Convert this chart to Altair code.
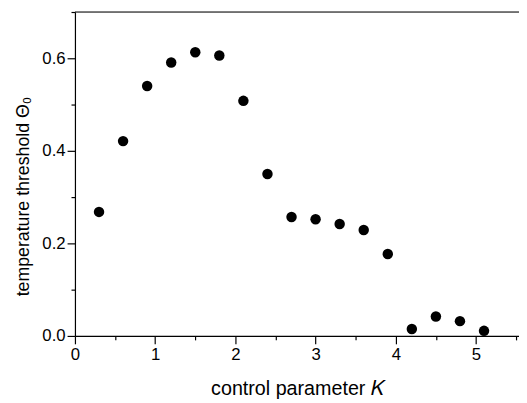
import altair as alt
import pandas as pd

K = [0.3, 0.6, 0.9, 1.2, 1.5, 1.8, 2.1, 2.4, 2.7, 3.0, 3.3, 3.6, 3.9, 4.2, 4.5, 4.8, 5.1]
theta0 = [0.268, 0.421, 0.540, 0.591, 0.613, 0.606, 0.508, 0.350, 0.257, 0.252,
          0.242, 0.229, 0.177, 0.015, 0.042, 0.032, 0.011]
x_ticks = [0, 0.5, 1, 1.5, 2, 2.5, 3, 3.5, 4, 4.5, 5, 5.5]
y_ticks = [0.0, 0.1, 0.2, 0.3, 0.4, 0.5, 0.6, 0.7]
x_max = 5.536
y_max = 0.7

df = pd.DataFrame({"K": K, "theta": theta0})

FONT = "Liberation Sans"

x_axis = alt.Axis(
    values=x_ticks,
    labelExpr="datum.value % 1 == 0 ? format(datum.value, 'd') : ''",
    tickSize={"condition": {"test": "datum.value % 1 != 0", "value": 4}, "value": 8},
    grid=False,
    domainColor="black", tickColor="black", labelColor="black", titleColor="black",
    labelFont=FONT, titleFont=FONT, labelFontSize=17, titleFontSize=20,
    titleFontWeight="normal", labelPadding=3, titlePadding=16,
    domainWidth=1.2, tickWidth=1.2, labelFlush=False, labelOverlap=False,
)
y_axis = alt.Axis(
    values=y_ticks,
    labelExpr="round(datum.value*10) % 2 == 0 && datum.value < 0.65 ? format(datum.value, '.1f') : ''",
    tickSize={"condition": {"test": "round(datum.value*10) % 2 == 1", "value": 4}, "value": 8},
    grid=False,
    domainColor="black", tickColor="black", labelColor="black", titleColor="black",
    labelFont=FONT, titleFont=FONT, labelFontSize=17, titleFontSize=18,
    titleFontWeight="normal", labelPadding=2, titlePadding=10, titleY=187,
    domainWidth=1.2, tickWidth=1.2, labelFlush=False, labelOverlap=False,
)

points = alt.Chart(df).mark_circle(size=113, color="black", opacity=1).encode(
    x=alt.X("K:Q", title="control parameter 𝐾",
            scale=alt.Scale(domain=[0, x_max], nice=False, zero=False), axis=x_axis),
    y=alt.Y("theta:Q", title="temperature threshold Θ₀",
            scale=alt.Scale(domain=[0, y_max], nice=False), axis=y_axis),
)

top_line = alt.Chart(pd.DataFrame({"y": [y_max]})).mark_rule(color="black", strokeWidth=1.2).encode(
    y="y:Q"
)

chart = alt.layer(points, top_line).properties(
    width=451, height=329,
    padding={"left": 68, "top": 1, "right": 0, "bottom": 62},
    autosize=alt.AutoSizeParams(type="none"),
).configure_view(stroke=None).configure(background="white")

chart.save("out.html", embed_options={"renderer": "svg", "actions": False})
